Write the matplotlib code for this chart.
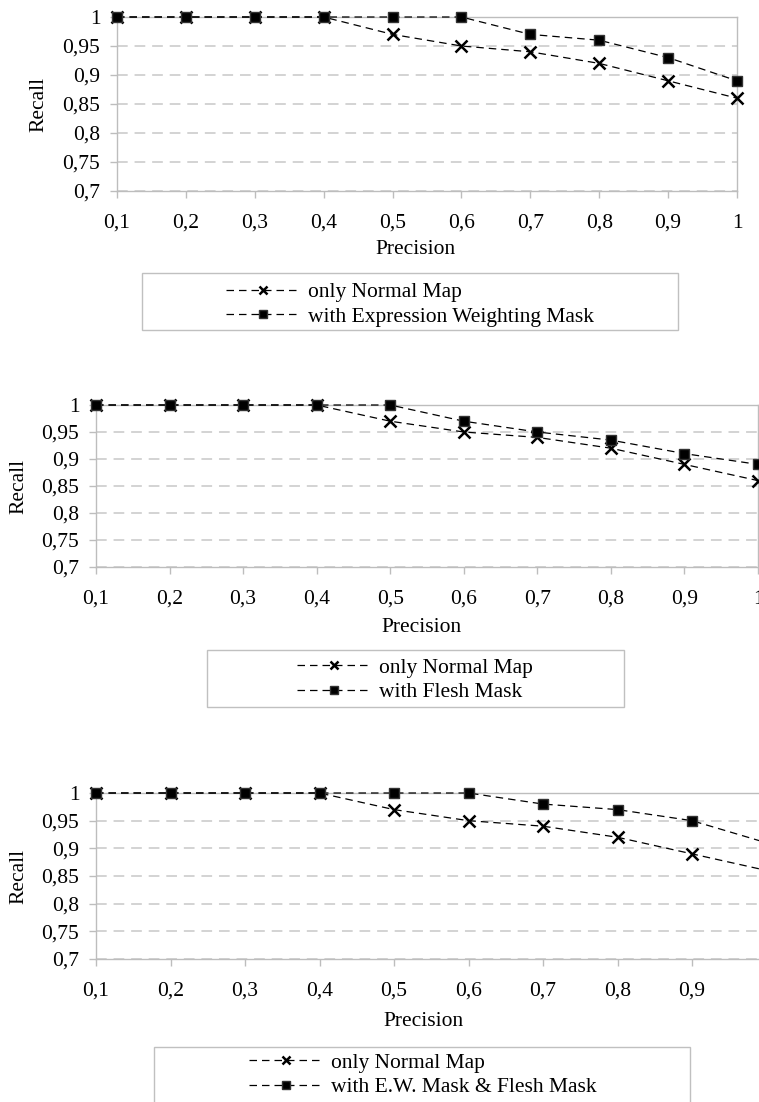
import matplotlib
matplotlib.use("Agg")
import matplotlib.pyplot as plt
from matplotlib.patches import Rectangle

# data
precision = [0.1, 0.2, 0.3, 0.4, 0.5, 0.6, 0.7, 0.8, 0.9, 1.0]
xtick_labels = ["0,1", "0,2", "0,3", "0,4", "0,5", "0,6", "0,7", "0,8", "0,9", "1"]
ytick_values = [0.7, 0.75, 0.8, 0.85, 0.9, 0.95, 1.0]
ytick_labels = ["0,7", "0,75", "0,8", "0,85", "0,9", "0,95", "1"]

normal_map = [1, 1, 1, 1, 0.97, 0.95, 0.94, 0.92, 0.89, 0.86]
ew_mask = [1, 1, 1, 1, 1, 1, 0.97, 0.96, 0.93, 0.89]
flesh_mask = [1, 1, 1, 1, 1, 0.97, 0.95, 0.935, 0.91, 0.89]
ew_flesh_mask = [1, 1, 1, 1, 1, 1, 0.98, 0.97, 0.95, 0.91]

labels_base = "only Normal Map"
labels_other = ["with Expression Weighting Mask", "with Flesh Mask",
                "with E.W. Mask & Flesh Mask"]
series_other = [ew_mask, flesh_mask, ew_flesh_mask]

W, H = 759, 1102
plt.rcParams["font.family"] = ["Liberation Serif", "DejaVu Serif"]
plt.rcParams["font.size"] = 15.5

fig = plt.figure(figsize=(W / 100, H / 100), dpi=100)

# pixel layout: axes box (left, right, top, bottom), xlabel centre, legend box, legend centre
panels = [
    dict(ax=(117, 737, 17, 191), xlab=(415, 250), ylab=39,
         box=(142, 678, 273, 330), leg=(410, 304.5)),
    dict(ax=(96, 758, 405, 567), xlab=(421, 628), ylab=19,
         box=(207, 624, 650, 707), leg=(415, 680)),
    dict(ax=(96, 766.5, 793, 959), xlab=(424, 1022), ylab=19,
         box=(154, 690, 1047, 1106), leg=(423, 1075)),
]

GRID = "#c8c8c8"
SPINE = "#bdbdbd"

for p, other, lab in zip(panels, series_other, labels_other):
    l, r, t, b = p["ax"]
    ax = fig.add_axes([l / W, 1 - b / H, (r - l) / W, (b - t) / H])
    wpx, hpx = r - l, b - t

    ax.plot(precision, normal_map, color="black", lw=0.9, ls=(0, (6, 4)),
            marker="x", ms=8, mew=1.8, clip_on=False, zorder=4, label=labels_base)
    ax.plot(precision, other, color="black", lw=0.9, ls=(0, (6, 4)),
            marker="s", ms=7, mec="#333333", clip_on=False, zorder=5, label=lab)

    ax.set_xlim(0.1, 1.0)
    ax.set_ylim(0.7, 1.0)
    ax.set_xticks(precision)
    ax.set_xticklabels(xtick_labels)
    ax.set_yticks(ytick_values)
    ax.set_yticklabels(ytick_labels)
    ax.tick_params(axis="x", length=5, width=1, color=SPINE, pad=11.5)
    ax.tick_params(axis="y", length=5, width=1, color=SPINE, pad=7)
    ax.yaxis.grid(True, color=GRID, lw=1.1, ls=(0, (7, 4.5)))
    ax.set_axisbelow(True)
    for s in ax.spines.values():
        s.set_color(SPINE)
        s.set_linewidth(1)

    ax.set_xlabel("Precision", va="center")
    ax.xaxis.set_label_coords((p["xlab"][0] - l) / wpx, -(p["xlab"][1] - b) / hpx)
    ax.set_ylabel("Recall", va="center")
    ax.yaxis.set_label_coords(-(l - p["ylab"]) / wpx, 0.5)

    bx0, bx1, by0, by1 = p["box"]
    fig.patches.append(Rectangle((bx0 / W, 1 - by1 / H), (bx1 - bx0) / W, (by1 - by0) / H,
                                 transform=fig.transFigure, fill=False,
                                 edgecolor="#c0c0c0", lw=1))
    lx, ly = p["leg"]
    fig.legend(*ax.get_legend_handles_labels(), loc="center",
               bbox_to_anchor=(lx / W, 1 - ly / H), frameon=False,
               handlelength=3.4, handletextpad=0.4, labelspacing=0.2,
               borderpad=0, borderaxespad=0, numpoints=1, markerscale=0.75)

fig.savefig("out.png", dpi=100)
